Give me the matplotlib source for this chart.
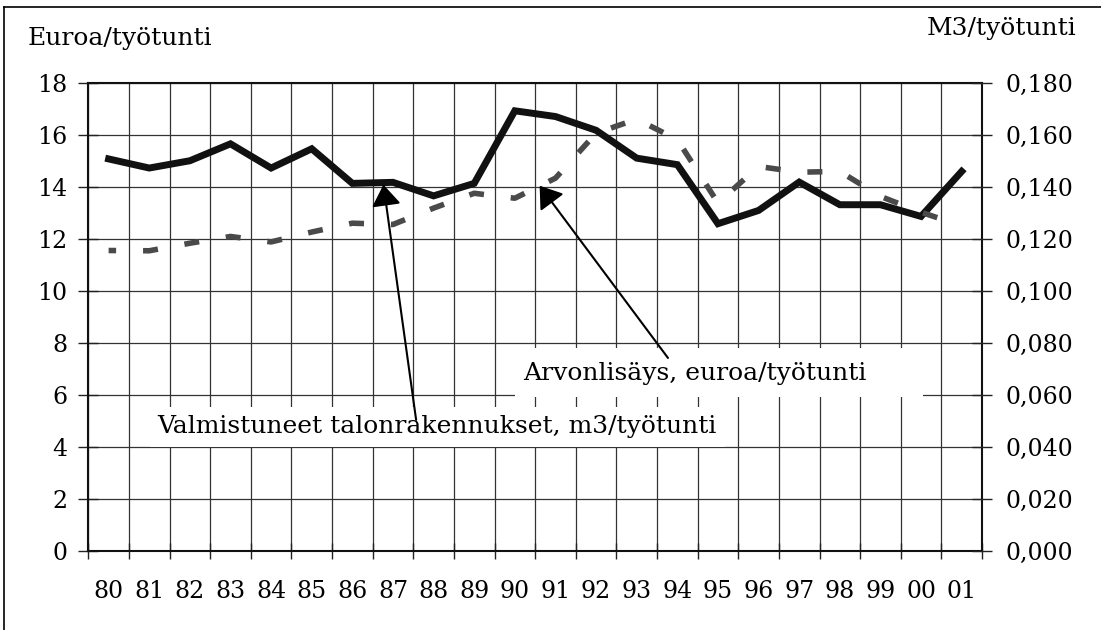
import matplotlib
matplotlib.use('Agg')
import matplotlib.pyplot as plt
from matplotlib.lines import Line2D
from matplotlib.patches import Rectangle
from matplotlib.ticker import FuncFormatter

# vuodet 1980-2001
years = ['80', '81', '82', '83', '84', '85', '86', '87', '88', '89', '90',
         '91', '92', '93', '94', '95', '96', '97', '98', '99', '00', '01']
# arvonlisays, euroa/tyotunti (vasen akseli)
euro = [15.07, 14.72, 15.00, 15.65, 14.72, 15.46, 14.13, 14.17, 13.65, 14.13, 16.92,
        16.70, 16.17, 15.10, 14.85, 12.58, 13.09, 14.18, 13.31, 13.31, 12.86, 14.59]
# valmistuneet talonrakennukset, m3/tyotunti (oikea akseli)
m3 = [0.1155, 0.1154, 0.1183, 0.1209, 0.1188, 0.1226, 0.1260, 0.1255, 0.1318, 0.1375, 0.1356,
      0.1433, 0.1606, 0.1660, 0.1581, 0.1338, 0.1478, 0.1456, 0.1459, 0.1363, 0.1302, 0.1250]

plt.rcParams['font.family'] = ['DejaVu Serif']
fs = 17      # akselien numerot
fs_txt = 18  # otsikot ja selitteet

fig = plt.figure(figsize=(11.01, 6.30), dpi=100)
ax = fig.add_axes([88.3/1101, 79/630, 893.7/1101, 468.3/630])
ax2 = ax.twinx()

x = list(range(len(years)))
ax.plot(x, euro, color='#111111', lw=5, solid_joinstyle='miter', zorder=3)
ax2.plot(x, m3, color='#4a4a4a', lw=4, ls=(1.35, (2.7, 4.85)),
         dash_capstyle='butt', zorder=3)

ax.set_xlim(-0.5, len(years) - 0.5)
ax.set_ylim(0, 18)
ax2.set_ylim(0, 0.18)
ax.set_yticks(range(0, 19, 2))
ax2.set_yticks([v / 1000 for v in range(0, 181, 20)])
ax2.yaxis.set_major_formatter(FuncFormatter(lambda v, p: ('%.3f' % v).replace('.', ',')))

# rajat kategorioiden valissa, nimet keskella
ax.set_xticks([i - 0.5 for i in range(len(years) + 1)])
ax.set_xticklabels([])
ax.set_xticks(x, minor=True)
ax.set_xticklabels(years, minor=True)
ax.tick_params(axis='x', which='major', direction='inout', length=12, width=1, color='#222222')
ax.tick_params(axis='x', which='minor', length=0, pad=21, labelsize=fs)
ax.tick_params(axis='y', direction='inout', length=14, width=1, color='#222222', pad=8, labelsize=fs)
ax2.tick_params(axis='y', direction='inout', length=14, width=1, color='#222222', pad=10, labelsize=fs)

ax.grid(True, which='major', color='#333333', lw=0.9)
ax.set_axisbelow(True)
for sp in ax.spines.values():
    sp.set_color('#111111')
    sp.set_linewidth(1.5)
for sp in ax2.spines.values():
    sp.set_visible(False)

# tekstilaatikot
ax2.add_patch(Rectangle((0.4775, 0.329), 0.934 - 0.4775, 0.4335 - 0.329,
                        transform=ax.transAxes, fc='white', ec='none', zorder=5))
ax2.add_patch(Rectangle((0.069, 0.222), 0.7124 - 0.069, 0.3075 - 0.222,
                        transform=ax.transAxes, fc='white', ec='none', zorder=5))
ax2.text(0.4864, 0.365, 'Arvonlisäys, euroa/työtunti', transform=ax.transAxes,
         fontsize=fs_txt, ha='left', va='baseline', zorder=6)
ax2.text(0.0769, 0.252, 'Valmistuneet talonrakennukset, m3/työtunti', transform=ax.transAxes,
         fontsize=fs_txt, ha='left', va='baseline', zorder=6)

arrow = dict(arrowstyle='-|>,head_length=0.65,head_width=0.45', mutation_scale=20,
             color='black', lw=1.5, shrinkA=0, shrinkB=0)
ax2.annotate('', xy=(6.765, 14.08), xycoords=ax.transData,
             xytext=(7.57, 5.04), textcoords=ax.transData, arrowprops=arrow, zorder=7)
ax2.annotate('', xy=(10.61, 14.04), xycoords=ax.transData,
             xytext=(13.77, 7.42), textcoords=ax.transData, arrowprops=arrow, zorder=7)

fig.text(27.4/1101, 1 - 45/630, 'Euroa/työtunti', fontsize=fs_txt, ha='left', va='baseline')
fig.text(1077/1101, 1 - 35/630, 'M3/työtunti', fontsize=fs_txt, ha='right', va='baseline')

# ulompi kehys
fig.add_artist(Line2D([4/1101, 4/1101], [0, 1 - 7/630], color='black', lw=1.2))
fig.add_artist(Line2D([4/1101, 1], [1 - 7/630, 1 - 7/630], color='black', lw=1.2))

fig.savefig('out.png', dpi=100)
